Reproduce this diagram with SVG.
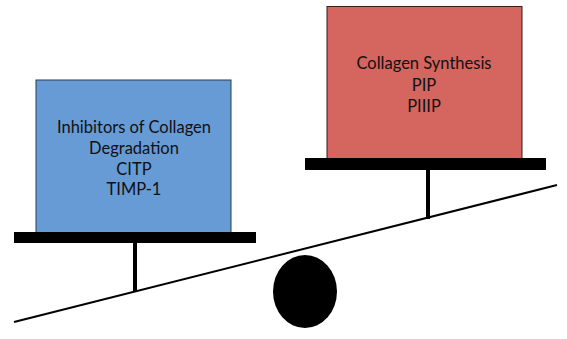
<svg xmlns="http://www.w3.org/2000/svg" width="567" height="339" viewBox="0 0 567 339">
<style>
.t{font-family:"Lato","Liberation Sans",sans-serif;font-size:16.5px;fill:#111;text-anchor:middle}
.bar{fill:#000}
</style>
<rect width="567" height="339" fill="#fff"/>
<g id="connectors">
<line x1="14" y1="322" x2="557" y2="185" stroke="#000" stroke-width="2"/>
<rect class="bar" x="133" y="242" width="4" height="50"/>
<rect class="bar" x="426" y="169" width="4" height="50"/>
</g>
<g id="fulcrum"><ellipse cx="305" cy="291.5" rx="32" ry="36.5" fill="#000"/></g>
<g id="inhibitors">
<rect x="36" y="80" width="195" height="153" fill="#679bd6" stroke="#2a3a50" stroke-width="1"/>
<text class="t" x="134" y="133">Inhibitors of Collagen</text>
<text class="t" x="134" y="154">Degradation</text>
<text class="t" x="134" y="174.5">CITP</text>
<text class="t" x="134" y="195">TIMP-1</text>
</g>
<g id="left-plank"><rect class="bar" x="14" y="232" width="242" height="11"/></g>
<g id="synthesis">
<rect x="327" y="6.5" width="195" height="152" fill="#d4655f" stroke="#3a1a18" stroke-width="1"/>
<text class="t" x="424" y="69">Collagen Synthesis</text>
<text class="t" x="424" y="90.5">PIP</text>
<text class="t" x="424" y="112">PIIIP</text>
</g>
<g id="right-plank"><rect class="bar" x="305" y="158" width="241" height="12"/></g>
</svg>
